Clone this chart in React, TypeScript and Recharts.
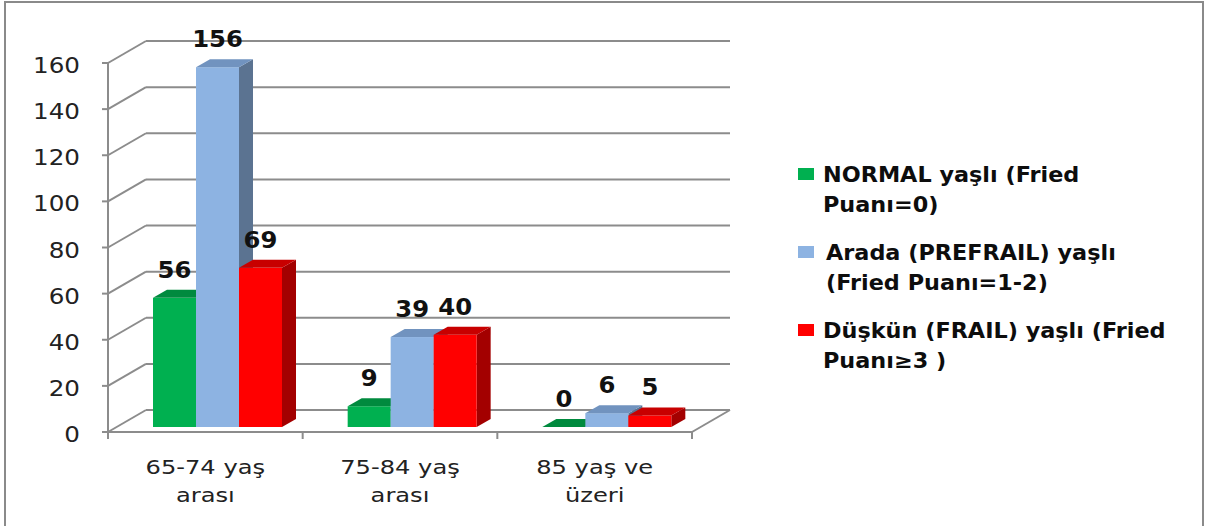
import React from 'react';
import { BarChart, Bar, XAxis, YAxis, CartesianGrid, Legend } from 'recharts';

// kategoriler (satır sonu = eksen etiketinde alt satır)
const categories = ['65-74 yaş\narası', '75-84 yaş\narası', '85 yaş ve\nüzeri'];
const normalValues = [56, 9, 0];
const prefrailValues = [156, 39, 6];
const frailValues = [69, 40, 5];
const yTicks = [0, 20, 40, 60, 80, 100, 120, 140, 160];

const seriesNames = [
  'NORMAL yaşlı (Fried\nPuanı=0)',
  'Arada (PREFRAIL) yaşlı\n(Fried Puanı=1-2)',
  'Düşkün (FRAIL) yaşlı (Fried\nPuanı≥3 )',
];

// ön yüz / üst yüz / yan yüz renkleri
const SERIES = [
  { key: 'normal', name: seriesNames[0], front: '#00B050', top: '#008A3E', side: '#007533', indent: 0 },
  { key: 'prefrail', name: seriesNames[1], front: '#8DB3E2', top: '#7193BF', side: '#5B7391', indent: 3 },
  { key: 'frail', name: seriesNames[2], front: '#FF0000', top: '#C80000', side: '#A30000', indent: 0 },
];

const data = categories.map((category, i) => ({
  category,
  normal: normalValues[i],
  prefrail: prefrailValues[i],
  frail: frailValues[i],
}));

const W = 1206;
const H = 526;
const PLOT_LEFT = 108;
const PLOT_RIGHT = 692;
const PLOT_TOP = 63;
const PLOT_BOTTOM = 432;
const Y_AXIS_W = 60;
const X_AXIS_H = 30;
const BAND = (PLOT_RIGHT - PLOT_LEFT) / categories.length;

// 3B görünüm ofsetleri
const WALL_DX = 38;
const WALL_DY = 22;
const BAR_DX = 12;
const BAR_DY = -5;
const SIDE_X = 14;
const SIDE_Y = 8;

const GRID = '#8c8c8c';
const FONT = "'DejaVu Sans', sans-serif";

const renderGridLine = (props: any) => {
  const { x1, y1, x2, y2, index } = props;
  const isFloor = Math.abs(y1 - PLOT_BOTTOM) < 0.5;
  return (
    <g key={`grid-${index}-${y1}`} stroke={GRID} strokeWidth={2} fill="none">
      <line x1={x1} y1={y1} x2={x1 + WALL_DX} y2={y1 - WALL_DY} />
      <line x1={x1 + WALL_DX} y1={y1 - WALL_DY} x2={x2 + WALL_DX} y2={y2 - WALL_DY} />
      {isFloor && <line x1={x2} y1={y2} x2={x2 + WALL_DX} y2={y2 - WALL_DY} />}
    </g>
  );
};

const makeBarShape = (s: typeof SERIES[number]) => (props: any) => {
  const { x, y, width, height, payload } = props;
  const value = payload[s.key];
  const fx = x + BAR_DX;
  const fy = y + BAR_DY;
  const h = Math.max(height, 0);
  const topFace = `${fx},${fy} ${fx + width},${fy} ${fx + width + SIDE_X},${fy - SIDE_Y} ${fx + SIDE_X},${fy - SIDE_Y}`;
  const sideFace = `${fx + width},${fy} ${fx + width + SIDE_X},${fy - SIDE_Y} ${fx + width + SIDE_X},${fy + h - SIDE_Y} ${fx + width},${fy + h}`;
  const cx = fx + width / 2;
  return (
    <g>
      {h > 0 && <polygon points={sideFace} fill={s.side} />}
      {h > 0 && <rect x={fx} y={fy} width={width} height={h} fill={s.front} />}
      <polygon points={topFace} fill={s.top} />
      <text
        transform={`translate(${cx},${fy - 20}) scale(1.08,1)`}
        textAnchor="middle"
        fontFamily={FONT}
        fontWeight="bold"
        fontSize={22.5}
        fill="#111"
      >
        {value}
      </text>
    </g>
  );
};

const YTick = ({ x, y, payload }: any) => (
  <text
    transform={`translate(${x},${y + 10}) scale(1.2,1)`}
    textAnchor="end"
    fontFamily={FONT}
    fontSize={20.5}
    fill="#222"
  >
    {payload.value}
  </text>
);

const CategoryTick = ({ x, y, payload, index }: any) => {
  const lines = String(payload.value).split('\n');
  const left = x - BAND / 2;
  const right = x + BAND / 2;
  return (
    <g>
      <line x1={left} y1={y} x2={left} y2={y + 7} stroke={GRID} strokeWidth={2} />
      {index === categories.length - 1 && (
        <line x1={right} y1={y} x2={right} y2={y + 7} stroke={GRID} strokeWidth={2} />
      )}
      {lines.map((line, i) => (
        <text
          key={i}
          transform={`translate(${x},${y + 42 + i * 28}) scale(1.24,1)`}
          textAnchor="middle"
          fontFamily={FONT}
          fontSize={19.5}
          fill="#222"
        >
          {line}
        </text>
      ))}
    </g>
  );
};

const LegendContent = () => (
  <svg width={420} height={240}>
    {SERIES.map((s, i) => {
      const base = 32 + i * 78;
      return (
        <g key={s.key}>
          <rect x={18} y={base - 14} width={16} height={12} fill={s.front} />
          {s.name.split('\n').map((line, j) => (
            <text
              key={j}
              transform={`translate(${43 + s.indent},${base + j * 30}) scale(1.09,1)`}
              fontFamily={FONT}
              fontWeight="bold"
              fontSize={20.5}
              fill="#0d0d0d"
            >
              {line}
            </text>
          ))}
        </g>
      );
    })}
  </svg>
);

export default function App() {
  return (
    <div style={{ position: 'absolute', left: 0, top: 0, width: W, height: H, overflow: 'hidden', background: '#fff' }}>
      <div
        style={{
          position: 'absolute',
          left: 4,
          top: 1,
          width: 1200,
          height: 600,
          boxSizing: 'border-box',
          border: '2.5px solid #8a8a8a',
        }}
      />
      <div style={{ position: 'absolute', left: 0, top: 0 }}>
        <BarChart
          width={W}
          height={H}
          data={data}
          barSize={43}
          barGap={0}
          margin={{
            top: PLOT_TOP,
            right: W - PLOT_RIGHT,
            bottom: H - PLOT_BOTTOM - X_AXIS_H,
            left: PLOT_LEFT - Y_AXIS_W,
          }}
        >
          <CartesianGrid vertical={false} horizontal={renderGridLine} />
          <XAxis
            dataKey="category"
            height={X_AXIS_H}
            axisLine={{ stroke: GRID, strokeWidth: 2 }}
            tickLine={false}
            tickSize={0}
            tickMargin={0}
            interval={0}
            tick={<CategoryTick />}
          />
          <YAxis
            width={Y_AXIS_W}
            domain={[0, 160]}
            ticks={yTicks}
            interval={0}
            axisLine={{ stroke: GRID, strokeWidth: 2 }}
            tickLine={{ stroke: GRID, strokeWidth: 2 }}
            tickSize={6}
            tickMargin={22}
            tick={<YTick />}
          />
          <Legend
            layout="vertical"
            align="center"
            verticalAlign="middle"
            wrapperStyle={{ left: 780, top: 150, width: 420, height: 240 }}
            content={<LegendContent />}
          />
          {SERIES.map((s) => (
            <Bar
              key={s.key}
              dataKey={s.key}
              name={s.name}
              fill={s.front}
              shape={makeBarShape(s)}
              isAnimationActive={false}
            />
          ))}
        </BarChart>
      </div>
    </div>
  );
}
